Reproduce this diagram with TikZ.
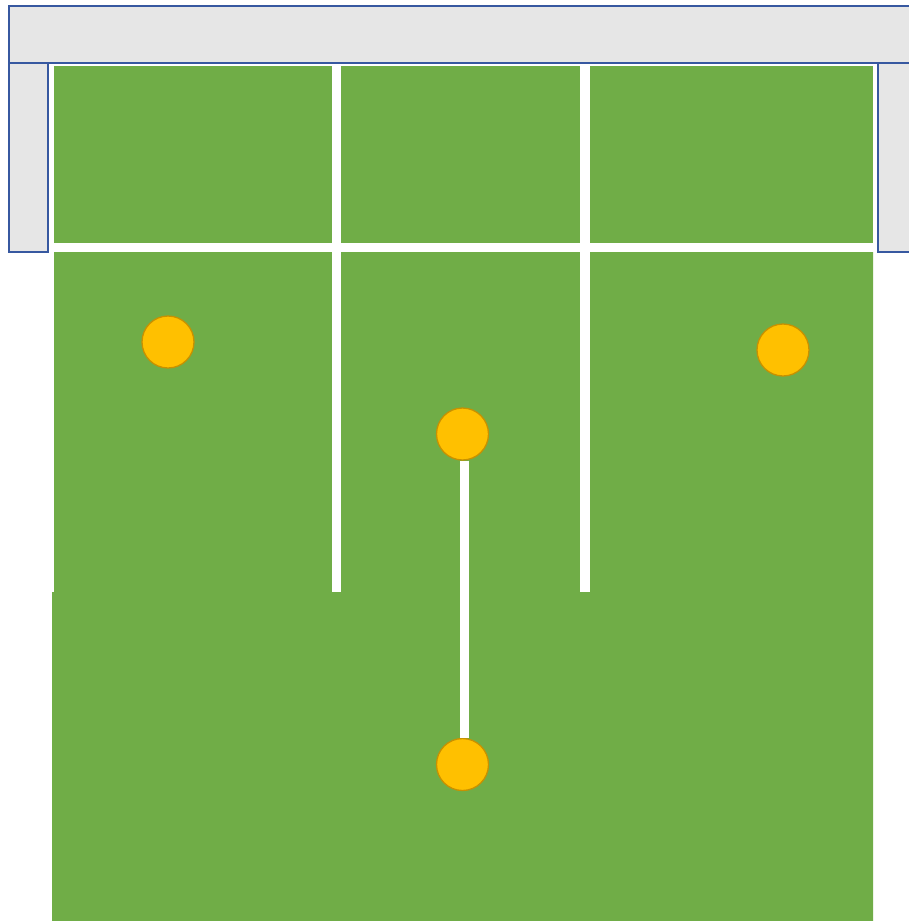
\documentclass[tikz,border=0pt]{standalone}
\usetikzlibrary{positioning}
\definecolor{grass}{RGB}{112,173,71}
\definecolor{ball}{RGB}{255,192,0}
\definecolor{ballline}{RGB}{200,145,0}
\definecolor{frame}{RGB}{55,88,160}
\definecolor{panel}{RGB}{230,230,230}
\tikzset{
  field/.style={fill=grass, draw=none},
  gap/.style={fill=white, draw=none},
  post/.style={fill=panel, draw=frame, line width=1.8pt},
  player/.style={circle, fill=ball, draw=ballline, line width=1.3pt, minimum size=52pt, inner sep=0pt},
  link/.style={draw=white, line width=9pt}
}
\begin{document}
\begin{tikzpicture}[x=1pt,y=-1pt]
\useasboundingbox (0,0) rectangle (909,921);
\fill[white] (0,0) rectangle (909,921);
% frame
\draw[post] (9,6) rectangle (930,63);
\draw[post] (9,63) rectangle (48,252);
\draw[post] (878,63) rectangle (930,252);
% field
\fill[field] (54,66) rectangle (873,243);
\fill[field] (54,252) -- (873,252) -- (873,925) -- (52,925) -- (52,592) -- (54,592) -- cycle;
% separators
\fill[gap] (332,66) rectangle (341,243);
\fill[gap] (580,66) rectangle (590,243);
\fill[gap] (332,252) rectangle (341,592);
\fill[gap] (580,252) rectangle (590,592);
% players
\node[player] (a) at (168,342) {};
\node[player] (b) at (783,350) {};
\node[player] (c) at (462.5,434) {};
\node[player] (d) at (462.5,764.5) {};
\draw[link] ([xshift=2pt]c.south) -- ([xshift=2pt]d.north);
\end{tikzpicture}
\end{document}
